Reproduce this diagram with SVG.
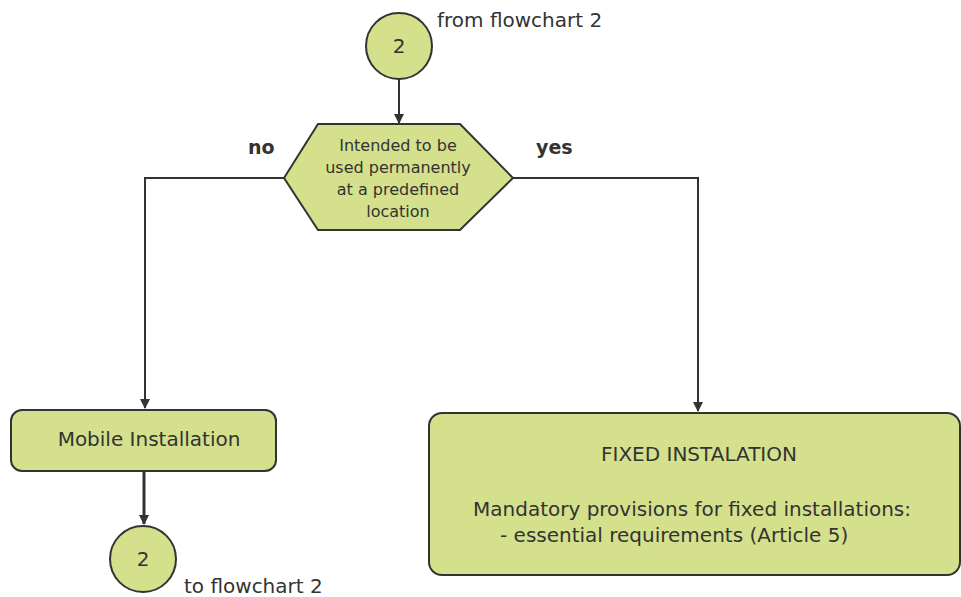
<svg xmlns="http://www.w3.org/2000/svg" width="961" height="597" viewBox="0 0 961 597">
<style>
.shape{fill:#d4e08b;stroke:#333333;stroke-width:2}
.t{font-family:"DejaVu Sans",sans-serif;fill:#333333}
.c{stroke:#333333;stroke-width:2;fill:none}
</style>
<defs>
<marker id="arr" markerWidth="10" markerHeight="10" refX="9" refY="5" orient="auto" markerUnits="userSpaceOnUse">
<path d="M0,0 L10,5 L0,10 Z" fill="#333333"/>
</marker>
</defs>
<rect width="961" height="597" fill="#ffffff"/>
<g id="connectors">
<line class="c" x1="399" y1="79" x2="399" y2="123" marker-end="url(#arr)"/>
<polyline class="c" points="284,178 145,178 145,408" marker-end="url(#arr)"/>
<polyline class="c" points="513,178 698,178 698,411" marker-end="url(#arr)"/>
<line class="c" style="stroke-width:3" x1="144" y1="472" x2="144" y2="524" marker-end="url(#arr)"/>
</g>
<g id="start">
<circle class="shape" cx="399" cy="46" r="33"/>
<text class="t" x="399" y="53" font-size="20" text-anchor="middle">2</text>
<text class="t" x="437" y="27" font-size="20">from flowchart 2</text>
</g>
<g id="decision">
<polygon class="shape" points="284,178 318,124 460,124 513,178 460,230 318,230"/>
<text class="t" font-size="16" text-anchor="middle"><tspan x="398" y="151">Intended to be</tspan><tspan x="398" y="173">used permanently</tspan><tspan x="398" y="195">at a predefined</tspan><tspan x="398" y="217">location</tspan></text>
<text class="t" x="248" y="154" font-size="19" font-weight="bold">no</text>
<text class="t" x="536" y="154" font-size="19" font-weight="bold">yes</text>
</g>
<g id="mobile">
<rect class="shape" x="11" y="410" width="265" height="61" rx="11"/>
<text class="t" x="149" y="446" font-size="20" text-anchor="middle">Mobile Installation</text>
</g>
<g id="end">
<circle class="shape" cx="143" cy="559" r="33"/>
<text class="t" x="143" y="566" font-size="20" text-anchor="middle">2</text>
<text class="t" x="184" y="593" font-size="20">to flowchart 2</text>
</g>
<g id="fixed">
<rect class="shape" x="429" y="413" width="531" height="162" rx="13"/>
<text class="t" x="699" y="461" font-size="20" text-anchor="middle">FIXED INSTALATION</text>
<text class="t" x="473" y="516" font-size="20">Mandatory provisions for fixed installations:</text>
<text class="t" x="500" y="542" font-size="20">- essential requirements (Article 5)</text>
</g>
</svg>
